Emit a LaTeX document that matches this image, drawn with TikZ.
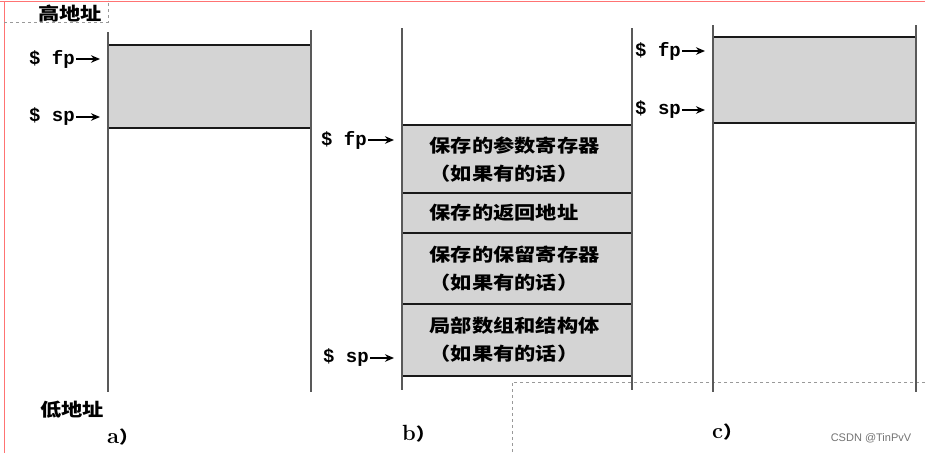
\documentclass[tikz,border=0pt]{standalone}
\usepackage{fontspec}
\newfontfamily\cjk[FakeStretch=1.18]{Noto Sans CJK SC}
\newfontfamily\regfont{Liberation Mono}
\newfontfamily\markfont{Liberation Sans}
\usetikzlibrary{arrows.meta,positioning,calc}

\begin{document}
\begin{tikzpicture}[x=1pt,y=-1pt,
    wall/.style={draw=black!65,line width=1.4pt},
    edge/.style={draw=black!90,line width=1.9pt},
    frame/.style={fill=black!17,inner sep=0pt,minimum width=203pt,anchor=north west},
    cell/.style={fill=black!17,inner sep=0pt,inner xsep=27.5pt,minimum width=230pt,text width=175pt,align=left,font={\cjk\bfseries\fontsize{18}{28}\selectfont}},
    reg/.style={font={\regfont\bfseries\fontsize{19}{19}\selectfont},inner sep=1pt},
    addr/.style={font={\cjk\bfseries\fontsize{18}{18}\selectfont},inner sep=0pt},
    capt/.style={font={\bfseries\fontsize{22}{22}\selectfont},inner sep=0pt,anchor=west},
    ptr/.style={-{Stealth[length=9pt,width=7.5pt]},line width=1.4pt}]
      \useasboundingbox (0,0) rectangle (925,453);
      \fill[white] (0,0) rectangle (925,453);
      % screenshot frame
      \draw[red!55,line width=1.5pt] (0,1.3) -- (925,1.3);
      \draw[red!55,line width=1pt] (4,1) -- (4,453);
      \draw[black!40,dashed,line width=0.6pt] (4,22) -- (108,22) -- (108,0);
      \draw[black!40,dashed,line width=0.6pt] (925,382) -- (512,382) -- (512,453);
      % a)
      \node[frame,minimum height=83pt] (abox) at (108,45) {};
      \draw[edge] (abox.north west) -- (abox.north east);
      \draw[edge] (abox.south west) -- (abox.south east);
      \draw[wall] (108,32) -- (108,392);
      \draw[wall] (311,30) -- (311,392);
      \coordinate (afp) at (100,59);
      \coordinate (asp) at (100,117);
      \node[reg,left=24pt of afp] (afpl) {\$ fp};
      \node[reg,left=24pt of asp] (aspl) {\$ sp};
      \draw[ptr] (afpl) -- (afp);
      \draw[ptr] (aspl) -- (asp);
      % b)
      \node[cell,minimum height=68pt,anchor=north west] (r1) at (402,125) {保存的参数寄存器\\（如果有的话）};
      \node[cell,minimum height=39pt,below=0pt of r1] (r2) {保存的返回地址};
      \node[cell,minimum height=71pt,below=0pt of r2] (r3) {保存的保留寄存器\\（如果有的话）};
      \node[cell,minimum height=71pt,below=0pt of r3] (r4) {局部数组和结构体\\（如果有的话）};
      \draw[edge] (r1.north west) -- (r1.north east);
      \foreach \r in {r1,r2,r3,r4}
        \draw[edge] (\r.south west) -- (\r.south east);
      \draw[wall] (402,28) -- (402,390);
      \draw[wall] (632,28) -- (632,390);
      \coordinate (bfp) at (394,140);
      \coordinate (bsp) at (394,358);
      \node[reg,left=26pt of bfp] (bfpl) {\$ fp};
      \node[reg,left=24pt of bsp] (bspl) {\$ sp};
      \draw[ptr] (bfpl) -- (bfp);
      \draw[ptr] (bspl) -- (bsp);
      % c)
      \node[frame,minimum height=86pt] (cbox) at (713,37) {};
      \draw[edge] (cbox.north west) -- (cbox.north east);
      \draw[edge] (cbox.south west) -- (cbox.south east);
      \draw[wall] (713,25) -- (713,392);
      \draw[wall] (916,25) -- (916,392);
      \coordinate (cfp) at (705,51);
      \coordinate (csp) at (705,110);
      \node[reg,left=23pt of cfp] (cfpl) {\$ fp};
      \node[reg,left=23pt of csp] (cspl) {\$ sp};
      \draw[ptr] (cfpl) -- (cfp);
      \draw[ptr] (cspl) -- (csp);
      % addresses and captions
      \node[addr] (hi) at (70,14) {高地址};
      \node[addr] (lo) at (72,410) {低地址};
      \node[capt] (capa) at (107,437) {a{\cjk\fontsize{17}{17}\selectfont）}};
      \node[capt] (capb) at (402,434) {b{\cjk\fontsize{17}{17}\selectfont）}};
      \node[capt] (capc) at (712,432) {c{\cjk\fontsize{17}{17}\selectfont）}};
      \node[font={\markfont\fontsize{11}{11}\selectfont},text=black!55,inner sep=0pt] (mark) at (871,438) {CSDN @TinPvV};
    \end{tikzpicture}
\end{document}
